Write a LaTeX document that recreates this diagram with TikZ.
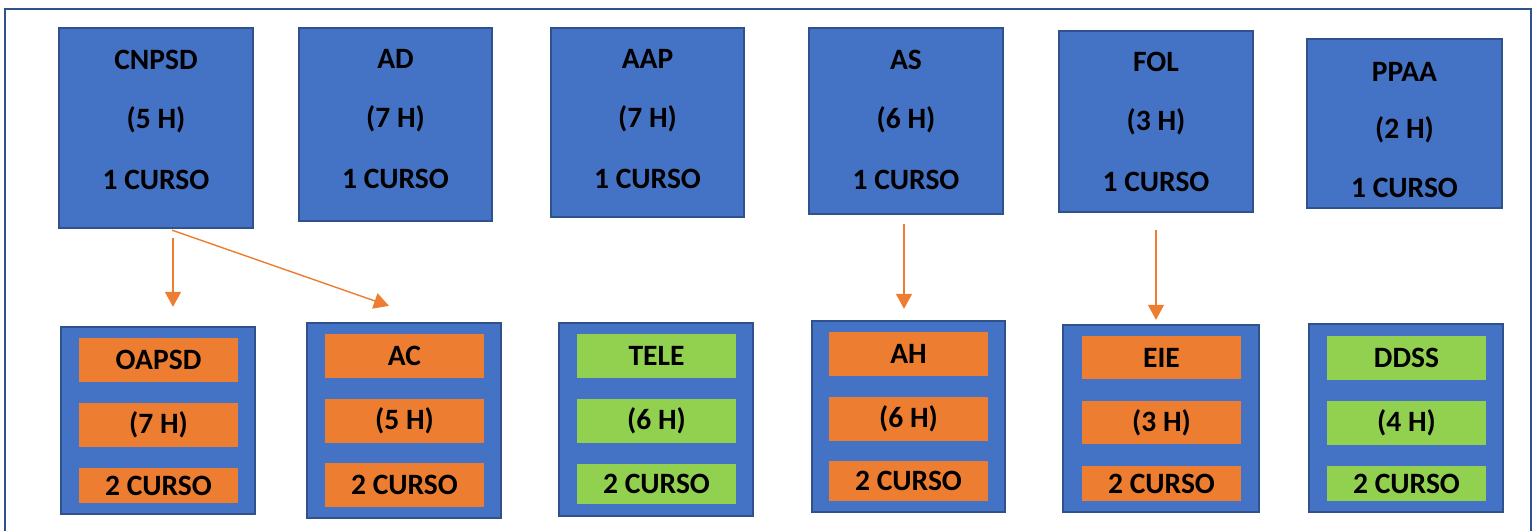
\documentclass[tikz,border=0pt]{standalone}
\usepackage{fontspec}
\setmainfont{Carlito}
\usetikzlibrary{arrows.meta,calc}
\definecolor{boxblue}{HTML}{4472C4}
\definecolor{boxedge}{HTML}{2F528F}
\definecolor{barorange}{HTML}{ED7D31}
\definecolor{bargreen}{HTML}{92D050}
\definecolor{arrorange}{HTML}{ED7D31}
\definecolor{frameblue}{HTML}{2F528F}
\tikzset{
  bigbox/.style 2 args={draw=boxedge, fill=boxblue, line width=1.3pt, minimum width=#1*0.02cm, minimum height=#2*0.02cm, inner sep=0pt},
  lbl/.style={font=\bfseries\fontsize{16.8}{18}\selectfont, text=black, inner sep=0pt},
  bar/.style 2 args={fill=#1, minimum width=159*0.02cm, minimum height=#2*0.02cm, inner sep=0pt, font=\bfseries\fontsize{16.8}{18}\selectfont, text=black},
  arr/.style={draw=arrorange, line width=0.8pt, -{Triangle[width=0.32cm,length=0.3cm]}}
}
\begin{document}
\begin{tikzpicture}[x=0.02cm,y=-0.02cm]
\useasboundingbox (0,0) rectangle (1538,531);
% outer frame
\draw[frameblue, line width=1.2pt] (5,531) -- (5,9) -- (1531,9) -- (1531,531);

% top boxes
\node[bigbox={194}{200}] (cnpsd) at (156,128) {};
\node[lbl] (cnpsd1) at (156,60) {CNPSD};
\node[lbl] (cnpsd2) at (156,120) {(5 H)};
\node[lbl] (cnpsd3) at (156,180) {1 CURSO};

\node[bigbox={193}{193}] (ad) at (395.5,124.5) {};
\node[lbl] (ad1) at (395.5,59) {AD};
\node[lbl] (ad2) at (395.5,119) {(7 H)};
\node[lbl] (ad3) at (395.5,179) {1 CURSO};

\node[bigbox={193}{189}] (aap) at (647.5,122.5) {};
\node[lbl] (aap1) at (647.5,59) {AAP};
\node[lbl] (aap2) at (647.5,119) {(7 H)};
\node[lbl] (aap3) at (647.5,179) {1 CURSO};

\node[bigbox={194}{186}] (as) at (906,121) {};
\node[lbl] (as1) at (906,60) {AS};
\node[lbl] (as2) at (906,120) {(6 H)};
\node[lbl] (as3) at (906,180) {1 CURSO};

\node[bigbox={194}{181}] (fol) at (1156,121.5) {};
\node[lbl] (fol1) at (1156,62) {FOL};
\node[lbl] (fol2) at (1156,122) {(3 H)};
\node[lbl] (fol3) at (1156,182) {1 CURSO};

\node[bigbox={195}{169}] (ppaa) at (1404.5,123.5) {};
\node[lbl] (ppaa1) at (1404.5,72) {PPAA};
\node[lbl] (ppaa2) at (1404.5,130) {(2 H)};
\node[lbl] (ppaa3) at (1404.5,188) {1 CURSO};

% bottom boxes
\node[bigbox={194}{187}] (oapsd) at (158,420.5) {};
\node[bar={barorange}{44}] (oapsd1) at (158.5,360) {OAPSD};
\node[bar={barorange}{44}] (oapsd2) at (158.5,425) {(7 H)};
\node[bar={barorange}{35}] (oapsd3) at (158.5,485.5) {2 CURSO};

\node[bigbox={194}{195}] (ac) at (404,420.5) {};
\node[bar={barorange}{44}] (ac1) at (404.5,356) {AC};
\node[bar={barorange}{44}] (ac2) at (404.5,421) {(5 H)};
\node[bar={barorange}{44}] (ac3) at (404.5,485) {2 CURSO};

\node[bigbox={194}{193}] (tele) at (656,419.5) {};
\node[bar={bargreen}{44}] (tele1) at (656.5,356) {TELE};
\node[bar={bargreen}{44}] (tele2) at (656.5,421) {(6 H)};
\node[bar={bargreen}{40}] (tele3) at (656.5,484) {2 CURSO};

\node[bigbox={193}{191}] (ah) at (908.5,416.5) {};
\node[bar={barorange}{44}] (ah1) at (908.5,354) {AH};
\node[bar={barorange}{44}] (ah2) at (908.5,419) {(6 H)};
\node[bar={barorange}{40}] (ah3) at (908.5,481) {2 CURSO};

\node[bigbox={196}{187}] (eie) at (1161,418.5) {};
\node[bar={barorange}{43}] (eie1) at (1161.5,357.5) {EIE};
\node[bar={barorange}{43}] (eie2) at (1161.5,422.5) {(3 H)};
\node[bar={barorange}{35}] (eie3) at (1161.5,483.5) {2 CURSO};

\node[bigbox={194}{188}] (ddss) at (1406,418) {};
\node[bar={bargreen}{44}] (ddss1) at (1406.5,358) {DDSS};
\node[bar={bargreen}{44}] (ddss2) at (1406.5,423) {(4 H)};
\node[bar={bargreen}{35}] (ddss3) at (1406.5,483.5) {2 CURSO};

% arrows
\draw[arr] ($(cnpsd.south)+(17,9)$) -- ($(oapsd.north)+(15,-19)$);
\draw[arr] ($(cnpsd.south)+(16,1)$) -- ($(ac.north)+(-15,-16)$);
\draw[arr] ($(as.south)+(-2,9)$) -- ($(ah.north)+(-4.5,-11)$);
\draw[arr] ($(fol.south)+(0,17)$) -- ($(eie.north)+(-5,-4)$);
\end{tikzpicture}
\end{document}
